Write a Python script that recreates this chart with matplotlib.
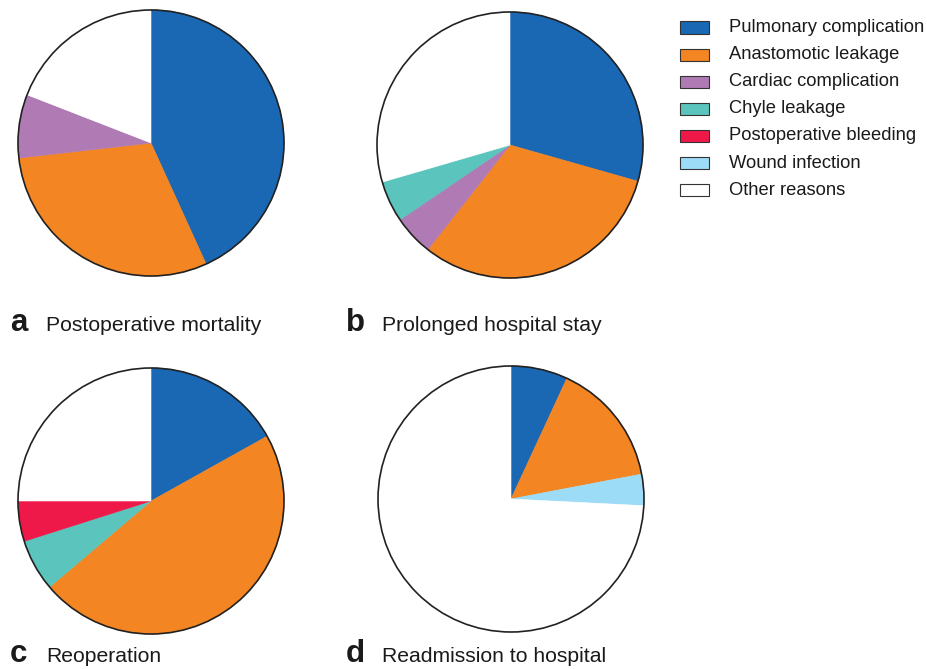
import matplotlib
matplotlib.use("Agg")
import matplotlib.pyplot as plt
from matplotlib.patches import Circle, Rectangle

plt.rcParams['font.family'] = ['Liberation Sans', 'DejaVu Sans']

W, H = 928, 669

categories = ["Pulmonary complication", "Anastomotic leakage", "Cardiac complication",
              "Chyle leakage", "Postoperative bleeding", "Wound infection", "Other reasons"]
colors = ["#1a68b4", "#f38522", "#b07bb5", "#5bc5bd", "#ee1849", "#9ddcf7", "#ffffff"]

mortality = [43.2, 30.0, 7.7, 0, 0, 0, 19.1]
prolonged = [29.4, 31.2, 4.9, 5.0, 0, 0, 29.5]
reoperation = [16.9, 46.9, 0, 6.3, 4.9, 0, 25.0]
readmission = [6.9, 15.1, 0, 0, 0, 3.8, 74.2]

letters = ["a", "b", "c", "d"]
titles = ["Postoperative mortality", "Prolonged hospital stay", "Reoperation", "Readmission to hospital"]

fig = plt.figure(figsize=(W / 100, H / 100), dpi=100)

# pixel layout: (centre x, centre y, radius), caption x / baseline
panels = [
    (mortality, 151, 143, 133, 10, 331),
    (prolonged, 510, 145, 133, 346, 331),
    (reoperation, 151, 501, 133, 10, 662),
    (readmission, 511, 499, 133, 346, 662),
]

for i, (vals, cx, cy, r, lx, ly) in enumerate(panels):
    ax = fig.add_axes([(cx - r) / W, 1 - (cy + r) / H, 2 * r / W, 2 * r / H])
    v = [x for x in vals if x > 0]
    c = [colors[k] for k, x in enumerate(vals) if x > 0]
    wedges, _ = ax.pie(v, colors=c, startangle=90, counterclock=False, radius=1)
    for w, col in zip(wedges, c):
        w.set_edgecolor(col)
        w.set_linewidth(0.4)
    ax.add_patch(Circle((0, 0), 1, fill=False, edgecolor='#222222', lw=1.2, clip_on=False))
    ax.set_xlim(-1, 1)
    ax.set_ylim(-1, 1)
    ax.set_aspect('equal')
    ax.axis('off')
    fig.text(lx / W, 1 - ly / H, letters[i], fontsize=22.5, fontweight='bold',
             ha='left', va='baseline', color='#1a1a1a')
    fig.text((lx + 36) / W, 1 - ly / H, titles[i], fontsize=15.2,
             ha='left', va='baseline', color='#1a1a1a')

# legend
for k, name in enumerate(categories):
    yc = 27.5 + k * 27.1
    fig.patches.append(Rectangle((680 / W, 1 - (yc + 6) / H), 29 / W, 12 / H,
                                 facecolor=colors[k], edgecolor='#333333', lw=0.8,
                                 transform=fig.transFigure, figure=fig))
    fig.text(729 / W, 1 - yc / H, name, fontsize=13.2, ha='left', va='center',
             color='#1a1a1a')

fig.savefig("out.png", dpi=100)
